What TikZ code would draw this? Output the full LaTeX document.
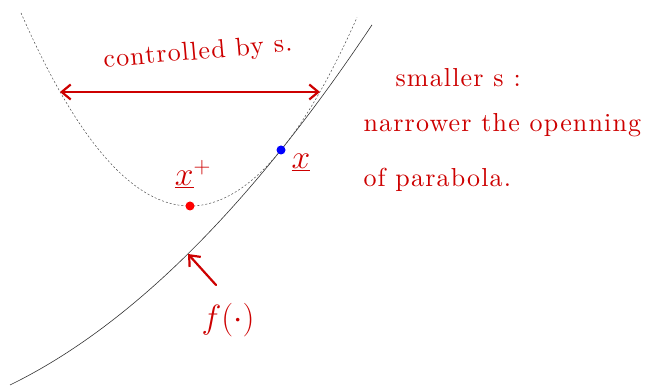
\documentclass[tikz,border=0pt]{standalone}
\usepackage{fontspec}
\newfontfamily\handfont{lmroman10-regular.otf}[LetterSpace=4.5]
\usetikzlibrary{arrows.meta}
\definecolor{ink}{RGB}{205,0,0}
\tikzset{
  hand/.style={ink, font=\handfont\fontsize{26}{31}\selectfont},
  handmath/.style={ink, font=\fontsize{24}{29}\selectfont},
  inkarrow/.style={ink, line width=2.2pt, line cap=round},
  dot/.style={circle, inner sep=0pt, minimum size=9pt}
}
\newcommand{\bigmath}[1]{\scalebox{1.35}{$#1$}}
\begin{document}
\begin{tikzpicture}[x=1pt, y=1pt]
            \useasboundingbox (0,0) rectangle (655,387);
            % f and the dashed parabola
            \draw[black!80, line width=0.6pt, domain=10:372, samples=120] plot (\x, {-2.74+0.46*\x+0.14*(\x/10)*(\x/10)});
            \draw[black!70, line width=0.5pt, dash pattern=on 2pt off 2pt, domain=21:357, samples=120] plot (\x, {181+0.676*((\x-190)/10)*((\x-190)/10)});
            \node[dot, fill=red] (xplus) at (190,181) {};
            \node[dot, fill=blue] (xcur) at (281,237) {};
            \node[handmath] at (193,213) {\bigmath{\underline{x}^{+}}};
            \node[handmath] at (301,224) {\bigmath{\underline{x}}};
            % width of the parabola
            \coordinate (pl) at (60,295);
            \coordinate (pr) at (320,295);
            \draw[inkarrow, {Straight Barb[length=9pt,width=15pt]}-{Straight Barb[length=9pt,width=15pt]}] (pl) -- (pr);
            \node[hand, rotate=5] (ctrl) at (198,334) {controlled by s.};
            % label of f
            \node[handmath] (flabel) at (228,67) {\bigmath{f(\cdot)}};
            \coordinate (ftail) at (216,102);
            \coordinate (fhit) at (188,133);
            \draw[inkarrow, -{Straight Barb[length=9pt,width=15pt]}] (ftail) -- (fhit);
            % note on the right
            \node[hand, anchor=base west] (note1) at (392,300) {smaller s :};
            \node[hand, anchor=base west] (note2) at (360,255) {narrower the openning};
            \node[hand, anchor=base west] (note3) at (360,200) {of parabola.};
        \end{tikzpicture}
\end{document}
